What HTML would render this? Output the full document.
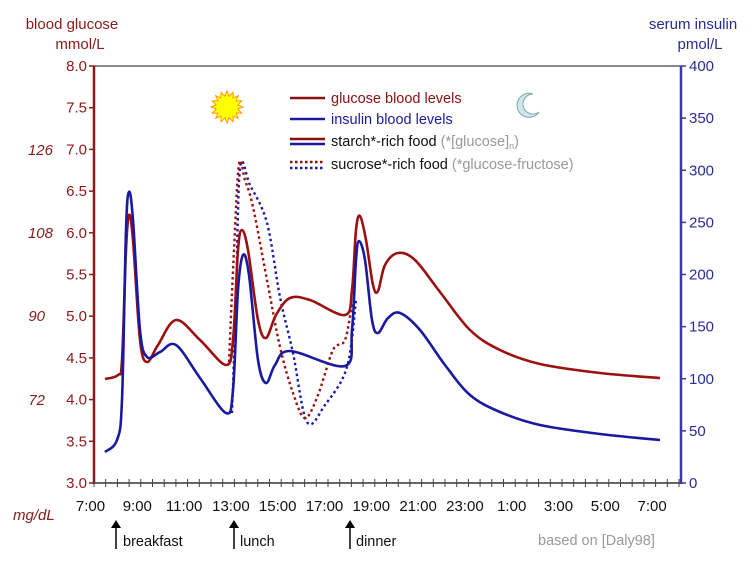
<!DOCTYPE html>
<html><head><meta charset="utf-8"><style>
body{margin:0;background:#fff;}
svg{display:block;font-family:"Liberation Sans",sans-serif;}
</style></head><body>
<svg id="s" width="754" height="566" viewBox="0 0 754 566">
<text x="72" y="29" fill="#8b1a1a" font-size="15" text-anchor="middle">blood glucose</text>
<text x="80" y="49" fill="#8b1a1a" font-size="15" text-anchor="middle">mmol/L</text>
<text x="693" y="29" fill="#2a2a9a" font-size="15" text-anchor="middle">serum insulin</text>
<text x="700" y="49" fill="#2a2a9a" font-size="15" text-anchor="middle">pmol/L</text>
<line x1="94" y1="66" x2="681" y2="66" stroke="#888" stroke-width="2"/>
<line x1="94" y1="483" x2="681" y2="483" stroke="#666" stroke-width="2"/>
<line x1="94" y1="66" x2="94" y2="484" stroke="#8b1a1a" stroke-width="2.5"/>
<line x1="681" y1="66" x2="681" y2="484" stroke="#3a3aa0" stroke-width="2.5"/>
<g id="ticks"></g>
<text x="53" y="155" fill="#8b1a1a" font-size="15" font-style="italic" text-anchor="end">126</text>
<text x="53" y="238" fill="#8b1a1a" font-size="15" font-style="italic" text-anchor="end">108</text>
<text x="45" y="321" fill="#8b1a1a" font-size="15" font-style="italic" text-anchor="end">90</text>
<text x="45" y="405" fill="#8b1a1a" font-size="15" font-style="italic" text-anchor="end">72</text>
<text x="13" y="520" fill="#8b1a1a" font-size="15" font-style="italic">mg/dL</text>
<polygon id="sun" fill="#ffff00" stroke="#ff9900" stroke-width="1"/>
<path d="M533 94 A12 12 0 1 0 539 112 A10 10 0 1 1 533 94 Z" fill="#cfe6ee" stroke="#7aa" stroke-width="1"/>
<line x1="290" y1="98" x2="325" y2="98" stroke="#8b1010" stroke-width="2.5"/>
<text x="331" y="103" fill="#8b1010" font-size="14.5">glucose blood levels</text>
<line x1="290" y1="119" x2="325" y2="119" stroke="#1a1aa0" stroke-width="2.5"/>
<text x="331" y="124" fill="#1a1aa0" font-size="14.5">insulin blood levels</text>
<line x1="290" y1="139" x2="325" y2="139" stroke="#8b1010" stroke-width="2.5"/>
<line x1="290" y1="144" x2="325" y2="144" stroke="#1a1aa0" stroke-width="2.5"/>
<text x="331" y="146" fill="#111" font-size="14.5">starch*-rich food <tspan fill="#999">(*[glucose]</tspan><tspan fill="#999" font-size="9" dy="3">n</tspan><tspan fill="#999" dy="-3">)</tspan></text>
<line x1="290" y1="162" x2="325" y2="162" stroke="#8b1010" stroke-width="2.5" stroke-dasharray="2.5 2.5"/>
<line x1="290" y1="168" x2="325" y2="168" stroke="#1a1aa0" stroke-width="2.5" stroke-dasharray="2.5 2.5"/>
<text x="331" y="169" fill="#111" font-size="14.5">sucrose*-rich food <tspan fill="#999">(*glucose-fructose)</tspan></text>
<g id="curves" fill="none" stroke-width="2.6"></g>
<g font-size="14.5" fill="#111">
<path d="M116 520 l-5 8 h10 z M350 520 l-5 8 h10 z M234 520 l-5 8 h10 z" fill="#000"/>
<line x1="116" y1="526" x2="116" y2="549" stroke="#000" stroke-width="1.5"/>
<line x1="234" y1="526" x2="234" y2="549" stroke="#000" stroke-width="1.5"/>
<line x1="350" y1="526" x2="350" y2="549" stroke="#000" stroke-width="1.5"/>
<text x="123" y="546">breakfast</text>
<text x="240" y="546">lunch</text>
<text x="356" y="546">dinner</text>
<text x="538" y="545" fill="#999">based on [Daly98]</text>
</g>
</svg>
<script>
const NS="http://www.w3.org/2000/svg";
function el(t,a,txt){const e=document.createElementNS(NS,t);for(const k in a)e.setAttribute(k,a[k]);if(txt!==undefined)e.textContent=txt;return e;}
const T=document.getElementById('ticks');
for(let i=0;i<=10;i++){const v=3+i*0.5,y=483-i*41.7;
T.appendChild(el('line',{x1:89,y1:y,x2:94,y2:y,stroke:'#8b1a1a','stroke-width':1.5}));
T.appendChild(el('text',{x:87,y:y+5,fill:'#8b1a1a','font-size':15,'text-anchor':'end'},v.toFixed(1)));}
for(let i=0;i<=8;i++){const y=483-i*52.125;
T.appendChild(el('line',{x1:681,y1:y,x2:686,y2:y,stroke:'#3a3aa0','stroke-width':1.5}));
T.appendChild(el('text',{x:689,y:y+5,fill:'#2a2a9a','font-size':15},String(i*50)));}
for(let i=0;i<=50;i++){const x=94+i*11.7;T.appendChild(el('line',{x1:x,y1:479,x2:x,y2:487,stroke:'#444','stroke-width':1}));}
const L=["7:00","9:00","11:00","13:00","15:00","17:00","19:00","21:00","23:00","1:00","3:00","5:00","7:00"];
L.forEach((s,i)=>T.appendChild(el('text',{x:90.5+46.8*i,y:511,fill:'#111','font-size':15,'text-anchor':'middle'},s)));
let p=[];for(let i=0;i<32;i++){const r=i%2?11:16,a=i*Math.PI/16;p.push((227+r*Math.cos(a)).toFixed(1)+','+(107+r*Math.sin(a)).toFixed(1));}
document.getElementById('sun').setAttribute('points',p.join(' '));
function cr(pts){let d='M'+pts[0].join(' ');for(let i=0;i<pts.length-1;i++){const p0=pts[i-1]||pts[i],p1=pts[i],p2=pts[i+1],p3=pts[i+2]||p2;
d+=` C${p1[0]+(p2[0]-p0[0])/6} ${p1[1]+(p2[1]-p0[1])/6} ${p2[0]-(p3[0]-p1[0])/6} ${p2[1]-(p3[1]-p1[1])/6} ${p2[0]} ${p2[1]}`;}return d;}
const C=document.getElementById('curves');
function add(pts,col,dash){const a={d:cr(pts),stroke:col};if(dash){a['stroke-dasharray']='2.5 3';a['stroke-width']=2.4;}C.appendChild(el('path',a));}
add([[232,413],[236,300],[240,168],[250,185],[267,223],[280,297],[293,353],[307,422],[325,405],[347,367],[356,300]],'#1a1aa0',1);
add([[229,362],[234,250],[239,164],[245,180],[253,207],[267,280],[280,347],[293,393],[305,418],[318,395],[333,350],[345,340],[352,303]],'#9b1010',1);
add([[105,379],[118,375],[122,360],[126,250],[129,215],[133,240],[140,340],[147,362],[158,345],[176,320],[200,340],[226,365],[233,340],[238,250],[242,230],[248,250],[258,320],[266,338],[276,315],[290,298],[310,300],[345,315],[352,290],[356,230],[360,216],[366,240],[373,285],[378,291],[385,265],[398,253],[415,260],[440,292],[470,330],[500,350],[540,364],[600,373],[660,378]],'#9b1010');
add([[105,452],[117,440],[122,400],[126,230],[129,192],[133,220],[140,330],[147,357],[160,352],[176,345],[200,378],[226,413],[233,390],[238,290],[243,255],[249,275],[258,360],[266,383],[275,365],[290,351],[345,366],[352,330],[356,260],[359,241],[365,260],[372,320],[378,333],[388,318],[400,313],[420,330],[445,365],[470,395],[500,412],[540,425],[600,434],[660,440]],'#1a1aa0');
</script>
</body></html>
